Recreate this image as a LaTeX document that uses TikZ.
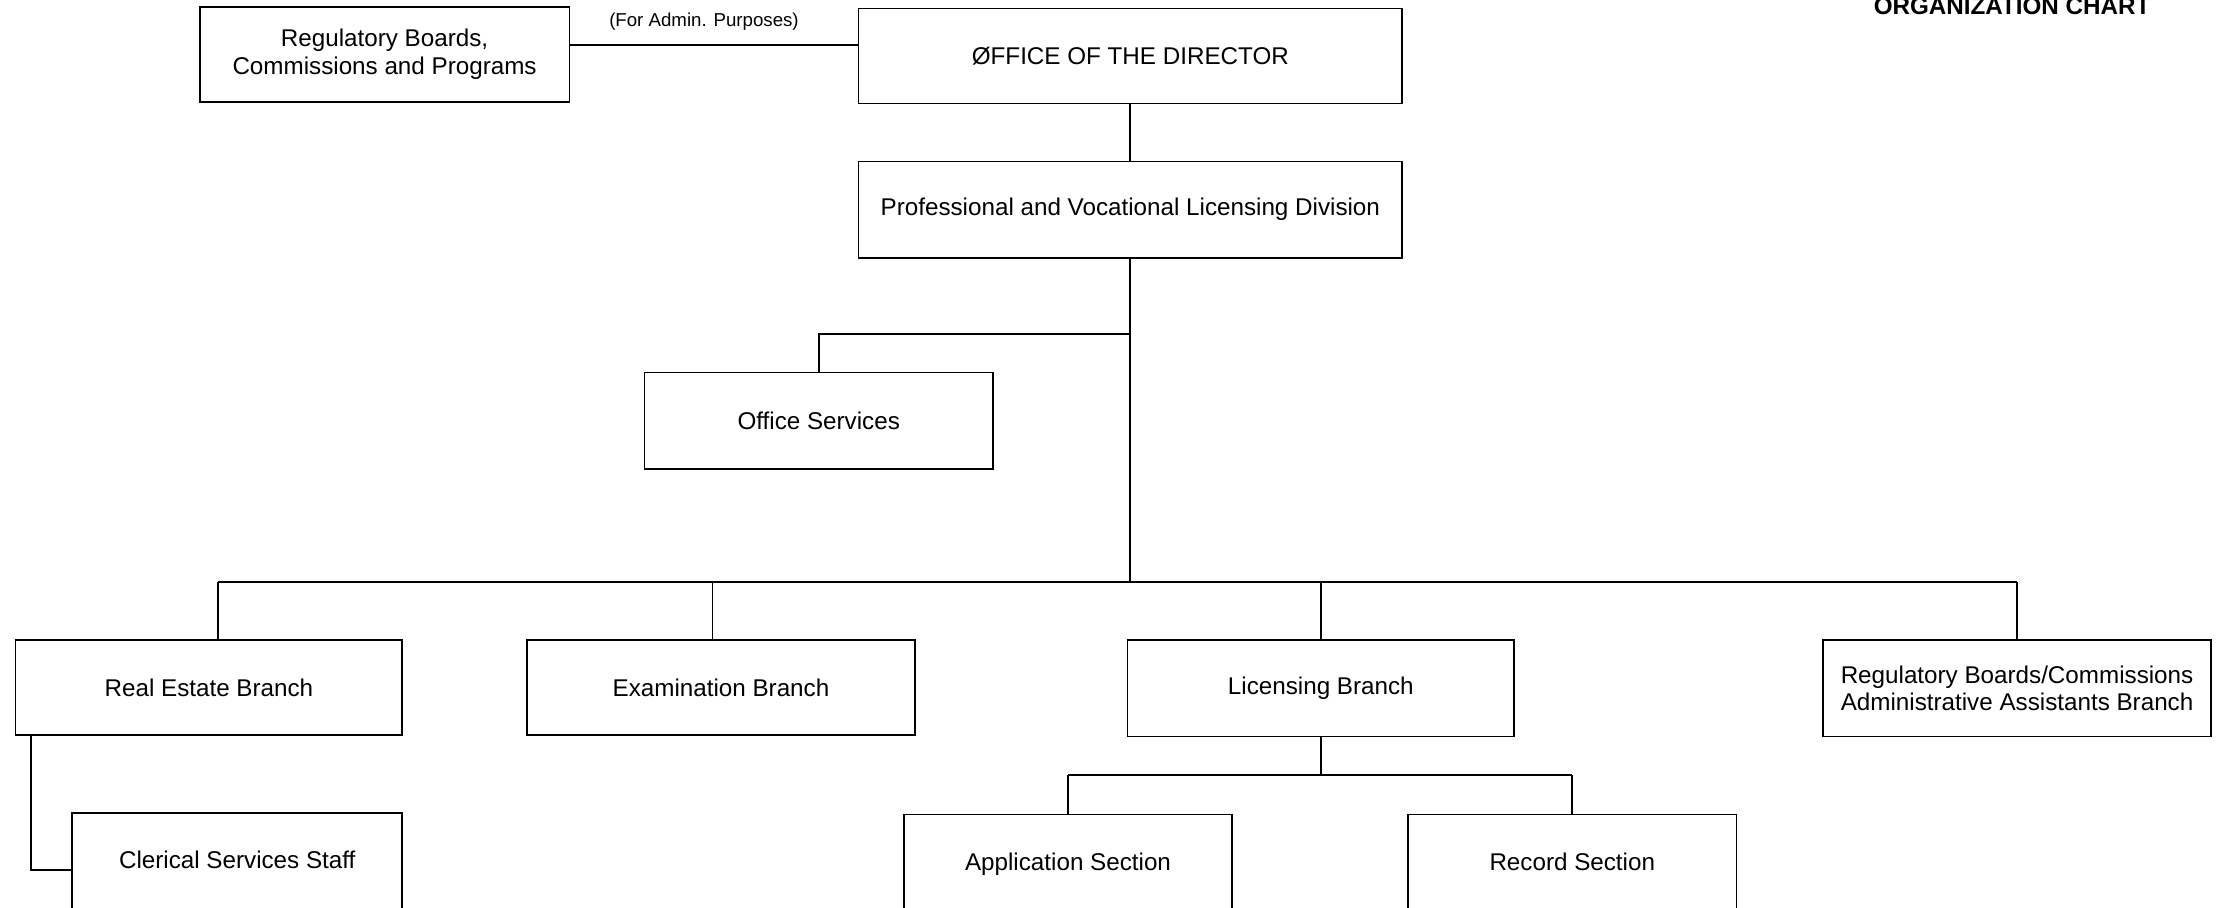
\documentclass[tikz,border=0pt]{standalone}
\usepackage{fontspec}
\setmainfont{Liberation Sans}
\begin{document}
\begin{tikzpicture}[x=0.02cm,y=-0.02cm,
  box/.style={draw=black,line width=0.7pt,rectangle,inner sep=0pt,align=center,
    font=\fontsize{9.73}{11.2}\selectfont},
  lowbox/.style={box,text height=0.72em,text depth=0.22em,minimum height=70*0.02cm},
  conn/.style={draw=black,line width=0.7pt},
  small/.style={font=\fontsize{7.5}{9}\selectfont,inner sep=0pt},
  title/.style={font=\fontsize{9.73}{11.2}\selectfont\bfseries,inner sep=0pt,anchor=base}]
\fill[white] (0,0) rectangle (1568,641);
\useasboundingbox (0,0) rectangle (1568,641);
\clip (0,0) rectangle (1568,641);

\node[box,minimum width=261*0.02cm,minimum height=67*0.02cm] (reg) at (271.5,38.5)
  {Regulatory Boards,\\Commissions and Programs};
\node[box,minimum width=384*0.02cm,minimum height=67*0.02cm] (dir) at (798,39.5)
  {ØFFICE OF THE DIRECTOR};
\node[box,minimum width=384*0.02cm,minimum height=68*0.02cm] (pvl) at (798,148)
  {Professional and Vocational Licensing Division};
\node[box,minimum width=246*0.02cm,minimum height=68*0.02cm] (ofs) at (578,297)
  {Office Services};
\node[box,minimum width=273*0.02cm,minimum height=67*0.02cm] (reb) at (147.5,485.5)
  {Real Estate Branch};
\node[box,minimum width=274*0.02cm,minimum height=67*0.02cm] (exb) at (509,485.5)
  {Examination Branch};
\node[box,minimum width=273*0.02cm,minimum height=68*0.02cm] (lib) at (932.5,486)
  {Licensing Branch};
\node[box,minimum width=274*0.02cm,minimum height=68*0.02cm] (rbc) at (1424,486)
  {Regulatory Boards/Commissions\\Administrative Assistants Branch};
\node[lowbox,minimum width=233*0.02cm] (css) at (167.5,609)
  {Clerical Services Staff};
\node[lowbox,minimum width=232*0.02cm] (app) at (754,610)
  {Application Section};
\node[lowbox,minimum width=232*0.02cm] (rec) at (1110,610)
  {Record Section};

\node[small] (adm) at (497,15) {(For Admin. Purposes)};
\node[title] (ttl) at (1420.5,10.5) {ORGANIZATION CHART};

% director to regulatory boards
\draw[conn] ([yshift=0.13cm]reg.east) coordinate (r1) -- (r1 -| dir.west);
% director to division
\draw[conn] (dir.south) -- (pvl.north);
% division trunk
\coordinate (bus) at (797,411);
\coordinate (osb) at (797,236);
\draw[conn] (pvl.south) -- (pvl.south |- bus);
\draw[conn] (pvl.south |- osb) -| (ofs.north);
% main bus
\coordinate (rebtop) at (154,452);
\coordinate (exbtop) at (503,452);
\draw[conn] (rebtop |- bus) -- (rbc.north |- bus);
\draw[conn] (rebtop |- bus) -- (rebtop);
\draw[conn] (exbtop |- bus) -- (exbtop);
\draw[conn] (lib.north |- bus) -- (lib.north);
\draw[conn] (rbc.north |- bus) -- (rbc.north);
% licensing sub-bus
\coordinate (lbus) at (933,547);
\draw[conn] (lib.south) -- (lib.south |- lbus);
\draw[conn] (app.north |- lbus) -- (rec.north |- lbus);
\draw[conn] (app.north |- lbus) -- (app.north);
\draw[conn] (rec.north |- lbus) -- (rec.north);
% real estate to clerical
\coordinate (rcl) at (22,614);
\draw[conn] (reb.south -| rcl) -- (rcl) -- (rcl -| css.west);
\end{tikzpicture}
\end{document}
